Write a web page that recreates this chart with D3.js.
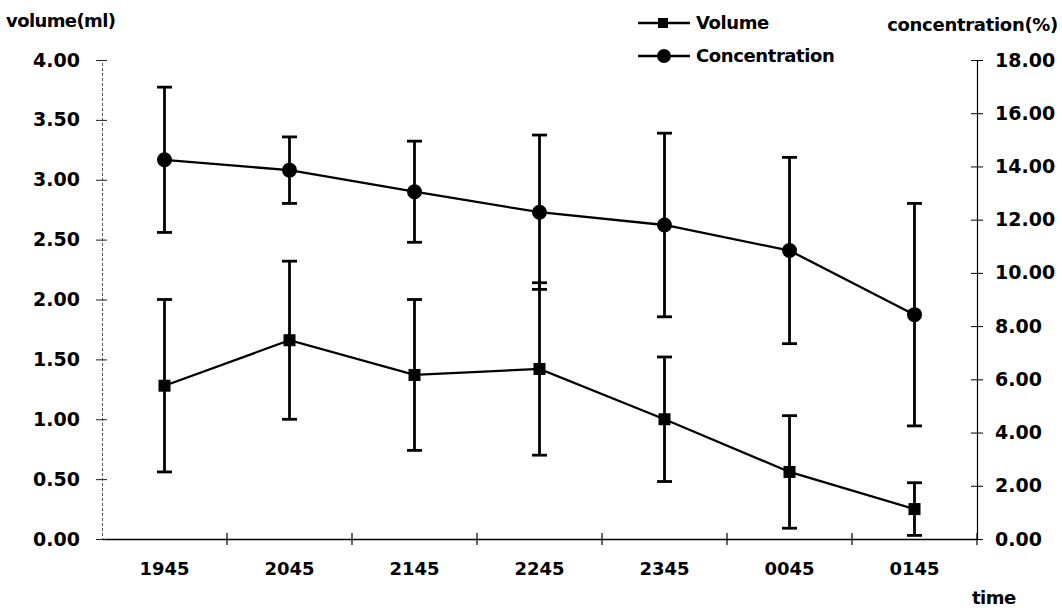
<!DOCTYPE html>
<head>
  <meta charset="UTF-8">
  <style>
    body { margin: 0; background: #fff; }
    text { font-family: "DejaVu Sans", sans-serif; font-weight: bold; fill: #000; }
  </style>
  <title>Volume and concentration by time</title>
</head>
<body>
  <script src="https://cdn.jsdelivr.net/npm/d3@7"></script>
  <script>
    // data
    var times = ["1945", "2045", "2145", "2245", "2345", "0045", "0145"];
    var volume = [1.28, 1.66, 1.37, 1.42, 1.00, 0.56, 0.25];
    var volumeErr = [0.72, 0.66, 0.63, 0.72, 0.52, 0.47, 0.22];
    var concentration = [14.25, 13.86, 13.05, 12.28, 11.80, 10.84, 8.43];
    var concentrationErr = [2.73, 1.25, 1.90, 2.90, 3.45, 3.50, 4.18];
    var volumeTicks = [0, 0.5, 1, 1.5, 2, 2.5, 3, 3.5, 4];
    var concTicks = [0, 2, 4, 6, 8, 10, 12, 14, 16, 18];

    var width = 1062, height = 611;
    var plotLeft = 102, plotRight = 977, plotTop = 60, plotBottom = 539;

    var svg = d3.select("body").append("svg")
      .attr("width", width)
      .attr("height", height);

    var x = d3.scaleBand().domain(times).range([plotLeft, plotRight]);
    var yL = d3.scaleLinear().domain([0, 4]).range([plotBottom, plotTop]);
    var yR = d3.scaleLinear().domain([0, 18]).range([plotBottom, plotTop]);
    var fmt = d3.format(".2f");

    // x axis
    var xAxis = svg.append("g")
      .attr("transform", "translate(0," + plotBottom + ")")
      .call(d3.axisBottom(x).tickSize(0).tickPadding(23));
    xAxis.select(".domain").attr("stroke", "#000").attr("stroke-width", 1.5);
    xAxis.selectAll("text").attr("font-size", "18px").attr("font-family", null);
    // boundary ticks crossing the axis
    svg.append("g").selectAll("line")
      .data(times.slice(1).concat(["end"]))
      .enter().append("line")
      .attr("x1", function(d) { return d === "end" ? plotRight : x(d); })
      .attr("x2", function(d) { return d === "end" ? plotRight : x(d); })
      .attr("y1", plotBottom - 6).attr("y2", plotBottom + 6)
      .attr("stroke", "#000").attr("stroke-width", 1.2);

    // left axis
    var lAxis = svg.append("g")
      .attr("transform", "translate(" + plotLeft + ",0)")
      .call(d3.axisLeft(yL).tickValues(volumeTicks).tickFormat(fmt).tickSize(6).tickPadding(16));
    lAxis.select(".domain").attr("stroke", "#555").attr("stroke-dasharray", "3,2");
    lAxis.selectAll(".tick line").attr("x1", -6).attr("x2", 5).attr("stroke", "#222");
    lAxis.selectAll("text").attr("font-size", "19px").attr("font-family", null);

    // right axis
    var rAxis = svg.append("g")
      .attr("transform", "translate(" + plotRight + ",0)")
      .call(d3.axisRight(yR).tickValues(concTicks).tickFormat(fmt).tickSize(6).tickPadding(12));
    rAxis.select(".domain").attr("stroke", "#000").attr("stroke-width", 1.2);
    rAxis.selectAll(".tick line").attr("x1", -6).attr("x2", 6).attr("stroke", "#000");
    rAxis.selectAll("text").attr("font-size", "19px").attr("font-family", null);

    // axis titles
    svg.append("text").attr("x", 6).attr("y", 27).attr("font-size", "18px")
      .attr("letter-spacing", "-0.6px").text("volume(ml)");
    svg.append("text").attr("x", 1058).attr("y", 31).attr("text-anchor", "end")
      .attr("font-size", "18px").attr("letter-spacing", "-0.3px").text("concentration(%)");
    svg.append("text").attr("x", 972).attr("y", 604).attr("font-size", "18px")
      .attr("letter-spacing", "-0.5px").text("time");

    var cx = function(i) { return x(times[i]) + x.bandwidth() / 2; };

    function drawSeries(values, errs, y, shape) {
      var g = svg.append("g");
      // error bars
      values.forEach(function(v, i) {
        var hi = y(v + errs[i]), lo = y(Math.max(0, v - errs[i]));
        g.append("line").attr("x1", cx(i)).attr("x2", cx(i))
          .attr("y1", hi).attr("y2", lo)
          .attr("stroke", "#000").attr("stroke-width", 2.8);
        [hi, lo].forEach(function(yy) {
          g.append("line").attr("x1", cx(i) - 7.5).attr("x2", cx(i) + 7.5)
            .attr("y1", yy).attr("y2", yy)
            .attr("stroke", "#000").attr("stroke-width", 2.8);
        });
      });
      // line
      g.append("path")
        .datum(values)
        .attr("fill", "none").attr("stroke", "#000").attr("stroke-width", 2.3)
        .attr("d", d3.line().x(function(d, i) { return cx(i); }).y(function(d) { return y(d); }));
      // markers
      values.forEach(function(v, i) {
        if (shape === "square") {
          g.append("rect").attr("x", cx(i) - 6).attr("y", y(v) - 6)
            .attr("width", 12).attr("height", 12).attr("fill", "#000");
        } else {
          g.append("circle").attr("cx", cx(i)).attr("cy", y(v)).attr("r", 7.5).attr("fill", "#000");
        }
      });
    }

    drawSeries(concentration, concentrationErr, yR, "circle");
    drawSeries(volume, volumeErr, yL, "square");

    // legend
    var legend = [
      { name: "Volume", shape: "square", y: 23 },
      { name: "Concentration", shape: "circle", y: 56 }
    ];
    legend.forEach(function(l) {
      svg.append("line").attr("x1", 638).attr("x2", 690)
        .attr("y1", l.y).attr("y2", l.y).attr("stroke", "#000").attr("stroke-width", 2.3);
      if (l.shape === "square") {
        svg.append("rect").attr("x", 658).attr("y", l.y - 5).attr("width", 10).attr("height", 10).attr("fill", "#000");
      } else {
        svg.append("circle").attr("cx", 664).attr("cy", l.y).attr("r", 7).attr("fill", "#000");
      }
      svg.append("text").attr("x", 696).attr("y", l.y + 6).attr("font-size", "18px")
        .attr("letter-spacing", "-0.4px").text(l.name);
    });
  </script>
</body>
